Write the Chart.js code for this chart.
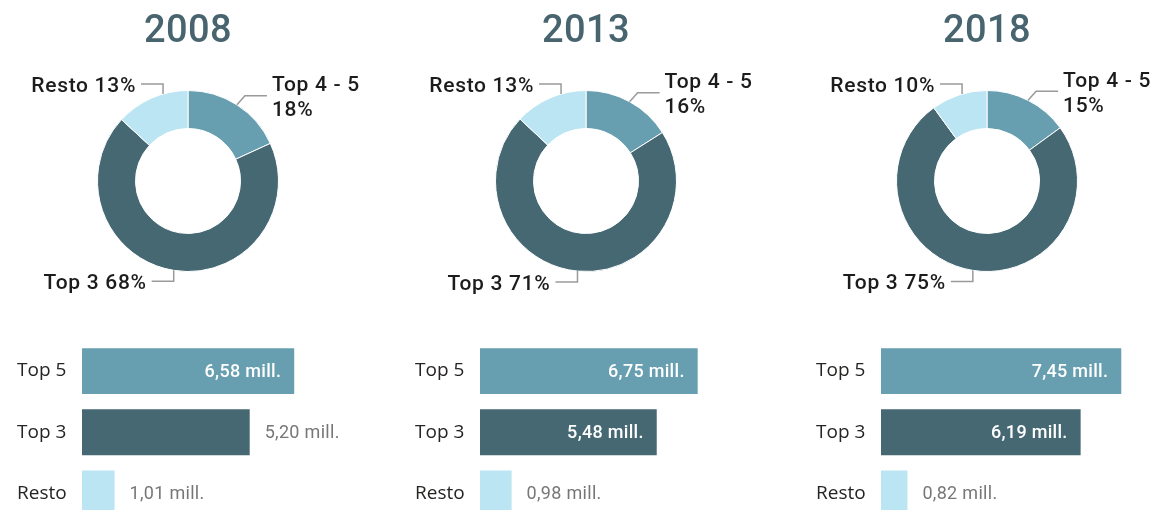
<!DOCTYPE html>
<html lang="es">
<head>
<meta charset="utf-8">
<title>Concentración Top 5</title>
<script src="https://cdn.jsdelivr.net/npm/chart.js@4.4.1/dist/chart.umd.min.js"></script>
<style>
  html, body { margin: 0; padding: 0; background: #fff; overflow: hidden; }
  body { width: 1159px; height: 510px; position: relative; }
  canvas { position: absolute; }
</style>
</head>
<body>
<canvas id="donut0" width="360" height="310"></canvas>
<canvas id="donut1" width="360" height="310"></canvas>
<canvas id="donut2" width="360" height="310"></canvas>
<canvas id="barras0" width="360" height="194"></canvas>
<canvas id="barras1" width="360" height="194"></canvas>
<canvas id="barras2" width="360" height="194"></canvas>
<script>
// Datos
const anios = ['2008', '2013', '2018'];

const donutLabels = ['Top 4 - 5', 'Top 3', 'Resto'];
const pctTop45 = [18, 16, 15];
const pctTop3 = [68, 71, 75];
const pctResto = [13, 13, 10];

const barLabels = ['Top 5', 'Top 3', 'Resto'];
const millTop5 = [6.58, 6.75, 7.45];
const millTop3 = [5.20, 5.48, 6.19];
const millResto = [1.01, 0.98, 0.82];

const colores = ['#679fb0', '#466873', '#bbe5f2'];
const offsets = [0, 398, 799];
const UMBRAL_DENTRO = 5.4; // por debajo la etiqueta va fuera de la barra

function formatoMill(v) {
  return v.toFixed(2).replace('.', ',') + ' mill.';
}

// Título del año y etiquetas con línea guía alrededor del donut
const calloutPlugin = {
  id: 'callouts',
  afterDraw(chart, args, opts) {
    const ctx = chart.ctx;
    const meta = chart.getDatasetMeta(0);
    const valores = chart.data.datasets[0].data;
    const cx = meta.data[0].x;
    const cy = meta.data[0].y;

    ctx.save();
    ctx.font = '500 38px Roboto';
    ctx.fillStyle = '#47646f';
    ctx.textAlign = 'center';
    ctx.textBaseline = 'alphabetic';
    ctx.letterSpacing = '0.4px';
    ctx.fillText(opts.titulo, cx, 42);

    ctx.font = '500 21px Roboto';
    ctx.letterSpacing = '0.7px';
    ctx.strokeStyle = '#9a9a9a';
    ctx.lineWidth = 1.5;
    ctx.fillStyle = '#1c1c1c';

    meta.data.forEach((arc, i) => {
      const r = arc.outerRadius;
      let a = (arc.startAngle + arc.endAngle) / 2;
      // arriba a la izquierda: la línea se acerca a la vertical
      if (Math.cos(a) < 0 && Math.sin(a) < 0) a = Math.max(a, 254 * Math.PI / 180);
      const ax = cx + r * Math.cos(a);
      const ay = cy + r * Math.sin(a);
      const dir = Math.cos(a) >= 0 ? 1 : -1;
      let ex, ey;
      if (Math.sin(a) < 0) {
        if (dir > 0) { ex = ax + 8; ey = ay - 9; } else { ex = ax; ey = ay - 10; }
      } else {
        ex = ax; ey = ay + 11;
      }
      const hx = ex + dir * 22;
      ctx.beginPath();
      ctx.moveTo(ax, ay);
      ctx.lineTo(ex, ey);
      ctx.lineTo(hx, ey);
      ctx.stroke();

      const tx = hx + dir * 5;
      const completo = chart.data.labels[i] + ' ' + valores[i] + '%';
      const w = ctx.measureText(completo).width;
      let lineas = [completo];
      if ((dir > 0 && tx + w > chart.width - 4) || (dir < 0 && tx - w < 4)) {
        lineas = [chart.data.labels[i], valores[i] + '%'];
      }
      ctx.textAlign = dir > 0 ? 'left' : 'right';
      const y0 = ey + 8 - (lineas.length - 1) * 12.5;
      lineas.forEach((t, k) => ctx.fillText(t, tx, y0 + k * 25));
    });
    ctx.restore();
  }
};

// Valores de las barras: dentro en blanco o fuera en gris
const etiquetasBarras = {
  id: 'etiquetasBarras',
  afterDatasetsDraw(chart) {
    const ctx = chart.ctx;
    const meta = chart.getDatasetMeta(0);
    const vals = chart.data.datasets[0].data;
    ctx.save();
    ctx.textBaseline = 'middle';
    ctx.letterSpacing = '0.3px';
    meta.data.forEach((bar, i) => {
      const txt = formatoMill(vals[i]);
      if (vals[i] >= UMBRAL_DENTRO) {
        ctx.font = '500 18px Roboto';
        ctx.fillStyle = '#ffffff';
        ctx.textAlign = 'right';
        ctx.fillText(txt, bar.x - 13, bar.y + 1);
      } else {
        ctx.font = '18px Roboto';
        ctx.fillStyle = '#777777';
        ctx.textAlign = 'left';
        ctx.fillText(txt, bar.x + 15, bar.y + 1);
      }
    });
    ctx.restore();
  }
};

anios.forEach((anio, i) => {
  const cvDonut = document.getElementById('donut' + i);
  cvDonut.style.left = offsets[i] + 'px';
  cvDonut.style.top = '0px';

  new Chart(cvDonut, {
    type: 'doughnut',
    data: {
      labels: donutLabels,
      datasets: [{
        data: [pctTop45[i], pctTop3[i], pctResto[i]],
        backgroundColor: colores,
        borderColor: '#ffffff',
        borderWidth: 1,
        hoverOffset: 0
      }]
    },
    options: {
      responsive: false,
      animation: false,
      devicePixelRatio: 1,
      cutout: '58%',
      events: [],
      layout: { padding: { left: 97, top: 90, right: 81, bottom: 38 } },
      plugins: {
        legend: { display: false },
        tooltip: { enabled: false },
        callouts: { titulo: anio }
      }
    },
    plugins: [calloutPlugin]
  });

  const cvBarras = document.getElementById('barras' + i);
  cvBarras.style.left = offsets[i] + 'px';
  cvBarras.style.top = '330px';

  new Chart(cvBarras, {
    type: 'bar',
    data: {
      labels: barLabels,
      datasets: [{
        data: [millTop5[i], millTop3[i], millResto[i]],
        backgroundColor: colores,
        barPercentage: 0.75,
        categoryPercentage: 1
      }]
    },
    options: {
      indexAxis: 'y',
      responsive: false,
      animation: false,
      devicePixelRatio: 1,
      events: [],
      layout: { padding: { left: 17, top: 10.5, right: 20, bottom: 0 } },
      plugins: {
        legend: { display: false },
        tooltip: { enabled: false }
      },
      scales: {
        x: { display: false, min: 0, max: 8 },
        y: {
          grid: { display: false },
          border: { display: false },
          ticks: { crossAlign: 'far', padding: 0, color: '#252423', font: { family: 'Open Sans', size: 19 } },
          afterFit(s) {
            s.width = 65;
            s.paddingTop = 0;
            s.paddingBottom = 0;
          }
        }
      }
    },
    plugins: [etiquetasBarras]
  });
});
</script>
</body>
</html>
